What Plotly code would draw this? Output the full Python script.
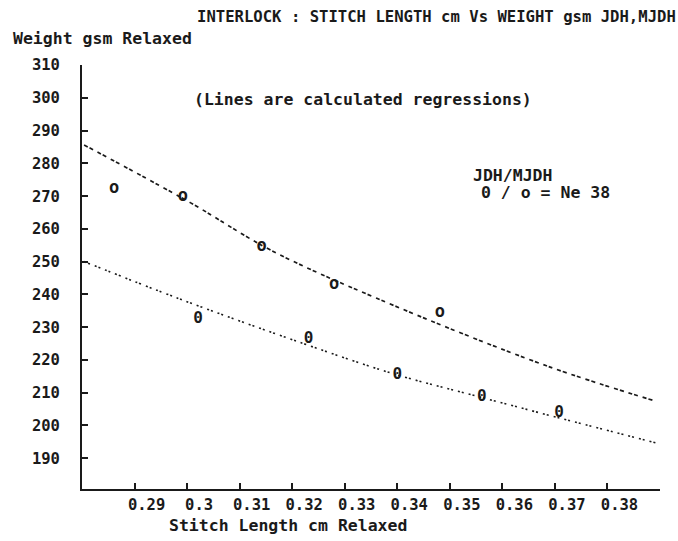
import plotly.graph_objects as go

# ---- data ----
stitch_o = [0.2861, 0.2992, 0.3142, 0.3280, 0.3481]      # "o" points (MJDH)
weight_o = [272.1, 269.8, 254.6, 242.9, 234.3]
stitch_0 = [0.3021, 0.3231, 0.3400, 0.3561, 0.3708]      # "0" points (JDH)
weight_0 = [232.4, 226.3, 215.4, 208.8, 203.7]

# regression curves, points
reg_o_x = [0.2804, 0.3006, 0.3158, 0.3361, 0.3684, 0.3894]
reg_o_y = [285.6, 268.0, 253.6, 238.8, 218.2, 207.3]
reg_0_x = [0.2804, 0.2986, 0.3221, 0.3392, 0.3545, 0.3703, 0.3892]
reg_0_y = [250.0, 238.6, 225.0, 215.8, 209.2, 202.5, 194.7]

x_tickvals = [0.29, 0.30, 0.31, 0.32, 0.33, 0.34, 0.35, 0.36, 0.37, 0.38, 0.39]
x_ticktext = ["0.29", "0.3", "0.31", "0.32", "0.33", "0.34", "0.35", "0.36", "0.37", "0.38", ""]
y_tickvals = [190, 200, 210, 220, 230, 240, 250, 260, 270, 280, 290, 300, 310]
y_ticktext = [str(v) for v in y_tickvals]

FONT = "DejaVu Sans Mono"
INK = "#1a1a1a"

fig = go.Figure()
fig.add_trace(go.Scatter(x=reg_o_x, y=reg_o_y, mode="lines", line_shape="spline",
                         line=dict(color=INK, width=1.7, dash="4px,2px,4px,5px"),
                         hoverinfo="skip"))
fig.add_trace(go.Scatter(x=reg_0_x, y=reg_0_y, mode="lines", line_shape="spline",
                         line=dict(color=INK, width=1.6, dash="2px,2px,2px,5px"),
                         hoverinfo="skip"))
fig.add_trace(go.Scatter(x=stitch_o, y=weight_o, mode="text", text=["o"] * len(stitch_o),
                         textposition="middle center",
                         textfont=dict(family=FONT, size=17, color=INK, weight="bold")))
fig.add_trace(go.Scatter(x=stitch_0, y=weight_0, mode="text", text=["0"] * len(stitch_0),
                         textposition="middle center",
                         textfont=dict(family=FONT, size=16, color=INK, weight="bold")))

axis_common = dict(showgrid=False, zeroline=False, showline=True, linecolor=INK, linewidth=2,
                   ticks="inside", ticklen=6, tickwidth=1.5, tickcolor=INK,
                   tickfont=dict(family=FONT, size=15.5, color=INK, weight="bold"))
fig.update_xaxes(range=[0.28, 0.39], tickvals=x_tickvals, ticktext=x_ticktext,
                 ticklabelshift=12, ticklabelstandoff=0, **axis_common)
fig.update_yaxes(range=[180.6, 310], tickvals=y_tickvals, ticktext=y_ticktext,
                 ticklabelstandoff=17, **axis_common)

def note(text, x, y, size=16.5, anchor="left"):
    fig.add_annotation(text=text, xref="paper", yref="paper", x=x, y=y,
                       xanchor=anchor, yanchor="middle", showarrow=False,
                       font=dict(family=FONT, size=size, color=INK, weight="bold"))

L, T, W, H = 82, 65, 578, 424
def px(xp):
    return (xp - L) / W
def py(yp):
    return (T + H - yp) / H

note("INTERLOCK : STITCH LENGTH cm Vs WEIGHT gsm JDH,MJDH", px(195), py(17), size=15.6)
note("Weight gsm Relaxed", px(11), py(39))
note("(Lines are calculated regressions)", px(192), py(100))
note("JDH/MJDH", px(471), py(175))
note("0 / o = Ne 38", px(479), py(192))
note("Stitch Length cm Relaxed", px(167), py(525))

fig.update_layout(width=678, height=541, margin=dict(l=L, r=678 - L - W, t=T, b=541 - T - H),
                  paper_bgcolor="white", plot_bgcolor="white", showlegend=False,
                  font=dict(family=FONT, color=INK))
fig.write_html("out.html")
